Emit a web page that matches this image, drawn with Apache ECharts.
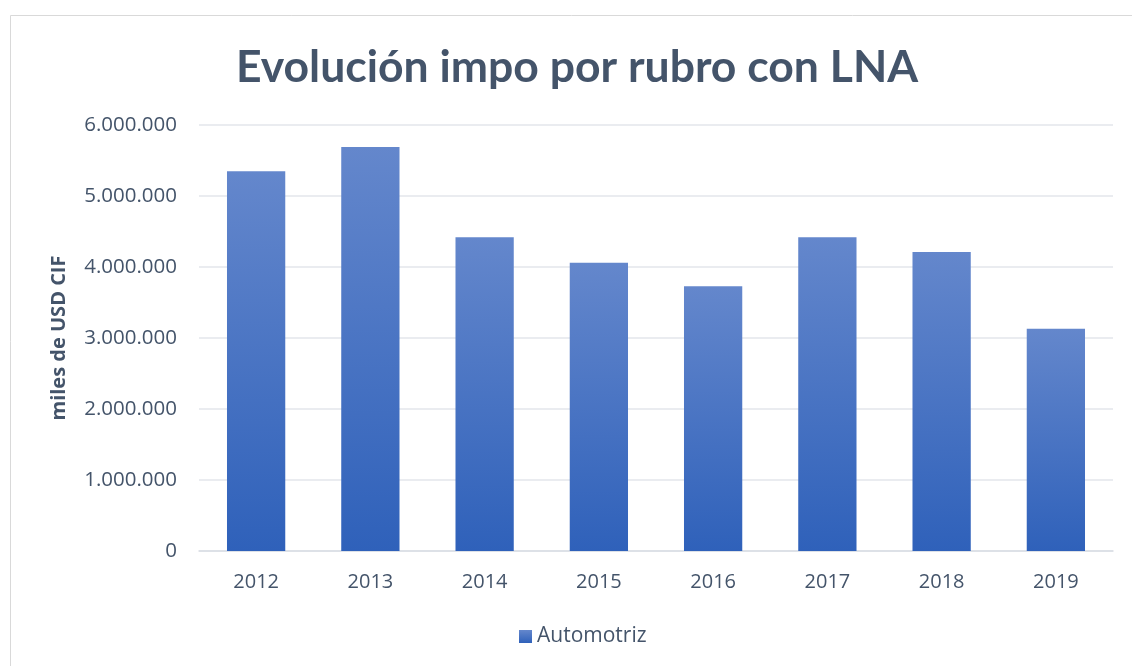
<!DOCTYPE html>
<html><head><meta charset="utf-8">
<script src="https://cdn.jsdelivr.net/npm/echarts@6/dist/echarts.min.js"></script>
<style>html,body{margin:0;padding:0;background:#fff}#c{width:1132px;height:666px}</style>
</head><body><div id="c"></div>
<script>
const categories = ['2012','2013','2014','2015','2016','2017','2018','2019'];
const automotriz = [5350000, 5690000, 4420000, 4060000, 3730000, 4420000, 4210000, 3130000];
const yTicks = [0, 1000000, 2000000, 3000000, 4000000, 5000000, 6000000];

function fmt(v){ return String(v).replace(/\B(?=(\d{3})+(?!\d))/g,'.'); }

const chart = echarts.init(document.getElementById('c'), null, {renderer:'canvas'});
const txt = '#44546a';
chart.setOption({
  animation:false,
  graphic:[{type:'rect', left:8, top:13, shape:{width:1140, height:670}, style:{fill:'none', stroke:'#d9d9d9', lineWidth:1}, silent:true}],
  title:{text:'Evolución impo por rubro con LNA', left:572, top:40, textAlign:'center',
    textStyle:{fontFamily:'Lato', fontWeight:'bold', fontSize:44.5, color:txt}},
  legend:{bottom:14, left:514, itemWidth:13, itemHeight:13, itemGap:7,
    textStyle:{fontFamily:'Open Sans', fontSize:21, color:txt}, icon:'rect'},
  grid:{left:199, right:19, top:125, bottom:115},
  xAxis:{type:'category', data:categories,
    axisLine:{lineStyle:{color:'#d9dde3', width:1.5}}, axisTick:{show:false},
    axisLabel:{fontFamily:'Open Sans', fontSize:20, color:txt, margin:21}},
  yAxis:{type:'value', min:yTicks[0], max:yTicks[yTicks.length-1], interval:1000000,
    name:'miles de USD CIF', nameLocation:'middle', nameGap:130, nameRotate:90,
    nameTextStyle:{fontFamily:'Open Sans', fontWeight:'bold', fontSize:20, color:txt},
    axisLine:{show:false}, axisTick:{show:false},
    splitLine:{lineStyle:{color:'#e3e6eb', width:1.5}},
    axisLabel:{fontFamily:'Open Sans', fontSize:20.5, color:txt, margin:22, formatter:fmt}},
  series:[{name:'Automotriz', type:'bar', data:automotriz, barWidth:'51%',
    itemStyle:{color:new echarts.graphic.LinearGradient(0,0,0,1,[{offset:0,color:'#6487cc'},{offset:1,color:'#2f61ba'}])}}]
});
</script></body></html>
